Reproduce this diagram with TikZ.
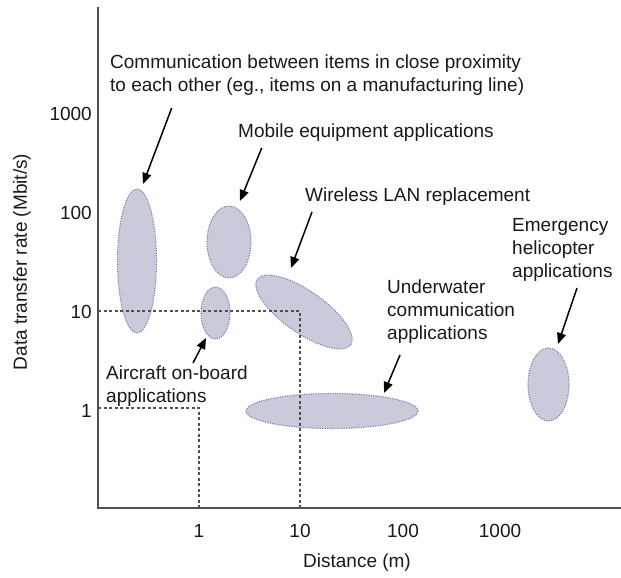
\documentclass[tikz,border=0pt]{standalone}
\usepackage{fontspec}
\setmainfont{Liberation Sans}
\usetikzlibrary{shapes.geometric,arrows.meta}
\definecolor{blobfill}{HTML}{C9CBDA}
\definecolor{blobline}{HTML}{7F86AD}
\definecolor{axisgray}{HTML}{505050}
\tikzset{
  blob/.style={ellipse, fill=blobfill, draw=blobline, dash pattern=on 1.2pt off 1.2pt, line width=1.1pt, inner sep=0pt},
  lbl/.style={font=\fontsize{19}{23}\selectfont, text=black!90, inner sep=0pt, align=left, anchor=west},
  tick/.style={font=\fontsize{19}{23}\selectfont, text=black!90, inner sep=0pt},
  pointer/.style={line width=1.5pt, -{Triangle[length=11pt,width=9pt]}},
  guide/.style={axisgray, line width=1.3pt, dash pattern=on 3pt off 2.5pt},
  axis/.style={axisgray, line width=2.4pt}
}
\begin{document}
\begin{tikzpicture}[x=1pt,y=-1pt]
\useasboundingbox (0,0) rectangle (621,578);
% axes
\coordinate (ytop) at (98,7);
\coordinate (origin) at (98,508);
\coordinate (xend) at (621,508);
% guide lines
\coordinate (g10a) at (98,311);
\coordinate (g10b) at (300,311);
\coordinate (g10c) at (300,508);
\coordinate (g1a) at (98,408);
\coordinate (g1b) at (199,408);
\coordinate (g1c) at (199,508);
% ellipses
\node[blob, minimum width=39pt, minimum height=144pt] (e1) at (137,261) {};
\node[blob, minimum width=44pt, minimum height=72pt] (e2) at (229,242) {};
\node[blob, minimum width=29pt, minimum height=52pt] (e3) at (215.5,313) {};
\node[blob, minimum width=114pt, minimum height=42pt, rotate=-35] (e4) at (304,312) {};
\node[blob, minimum width=172pt, minimum height=35pt] (e5) at (332,411) {};
\node[blob, minimum width=41pt, minimum height=73pt] (e6) at (548.5,384.5) {};
\draw[guide] (g10a) -- (g10b) -- (g10c);
\draw[guide] (g1a) -- (g1b) -- (g1c);
\draw[axis] (ytop) -- (origin) -- (xend);
% tick labels
\node[tick, anchor=east] (y1000) at (92,114) {1000};
\node[tick, anchor=east] (y100) at (92,213) {100};
\node[tick, anchor=east] (y10) at (92,312) {10};
\node[tick, anchor=east] (y1) at (92,411) {1};
\node[tick] (x1) at (199,531) {1};
\node[tick] (x10) at (300,531) {10};
\node[tick] (x100) at (403,531) {100};
\node[tick] (x1000) at (500,531) {1000};
\node[tick] (xlab) at (357,563) {Distance (m)};
\node[tick, rotate=90] (ylab) at (22,262) {Data transfer rate (Mbit/s)};
% labels
\node[lbl] (tcomm) at (110,75) {Communication between items in close proximity\\to each other (eg., items on a manufacturing line)};
\node[lbl] (tmob) at (238,133) {Mobile equipment applications};
\node[lbl] (tlan) at (305,197) {Wireless LAN replacement};
\node[lbl] (temg) at (512,250) {Emergency\\helicopter\\applications};
\node[lbl] (tuw) at (387,312) {Underwater\\communication\\applications};
\node[lbl] (tair) at (106,386) {Aircraft on-board\\applications};
% arrows
\coordinate (a1s) at (171.7,108); \coordinate (a1e) at (143,184);
\coordinate (a2s) at (261.7,148); \coordinate (a2e) at (240,201);
\coordinate (a3s) at (312,212);   \coordinate (a3e) at (291,268);
\coordinate (a4s) at (193,363);   \coordinate (a4e) at (206,338);
\coordinate (a5s) at (400,355);   \coordinate (a5e) at (384,393);
\coordinate (a6s) at (577,288);   \coordinate (a6e) at (558,344);
\draw[pointer] (a1s) -- (a1e);
\draw[pointer] (a2s) -- (a2e);
\draw[pointer] (a3s) -- (a3e);
\draw[pointer] (a4s) -- (a4e);
\draw[pointer] (a5s) -- (a5e);
\draw[pointer] (a6s) -- (a6e);
\end{tikzpicture}
\end{document}
